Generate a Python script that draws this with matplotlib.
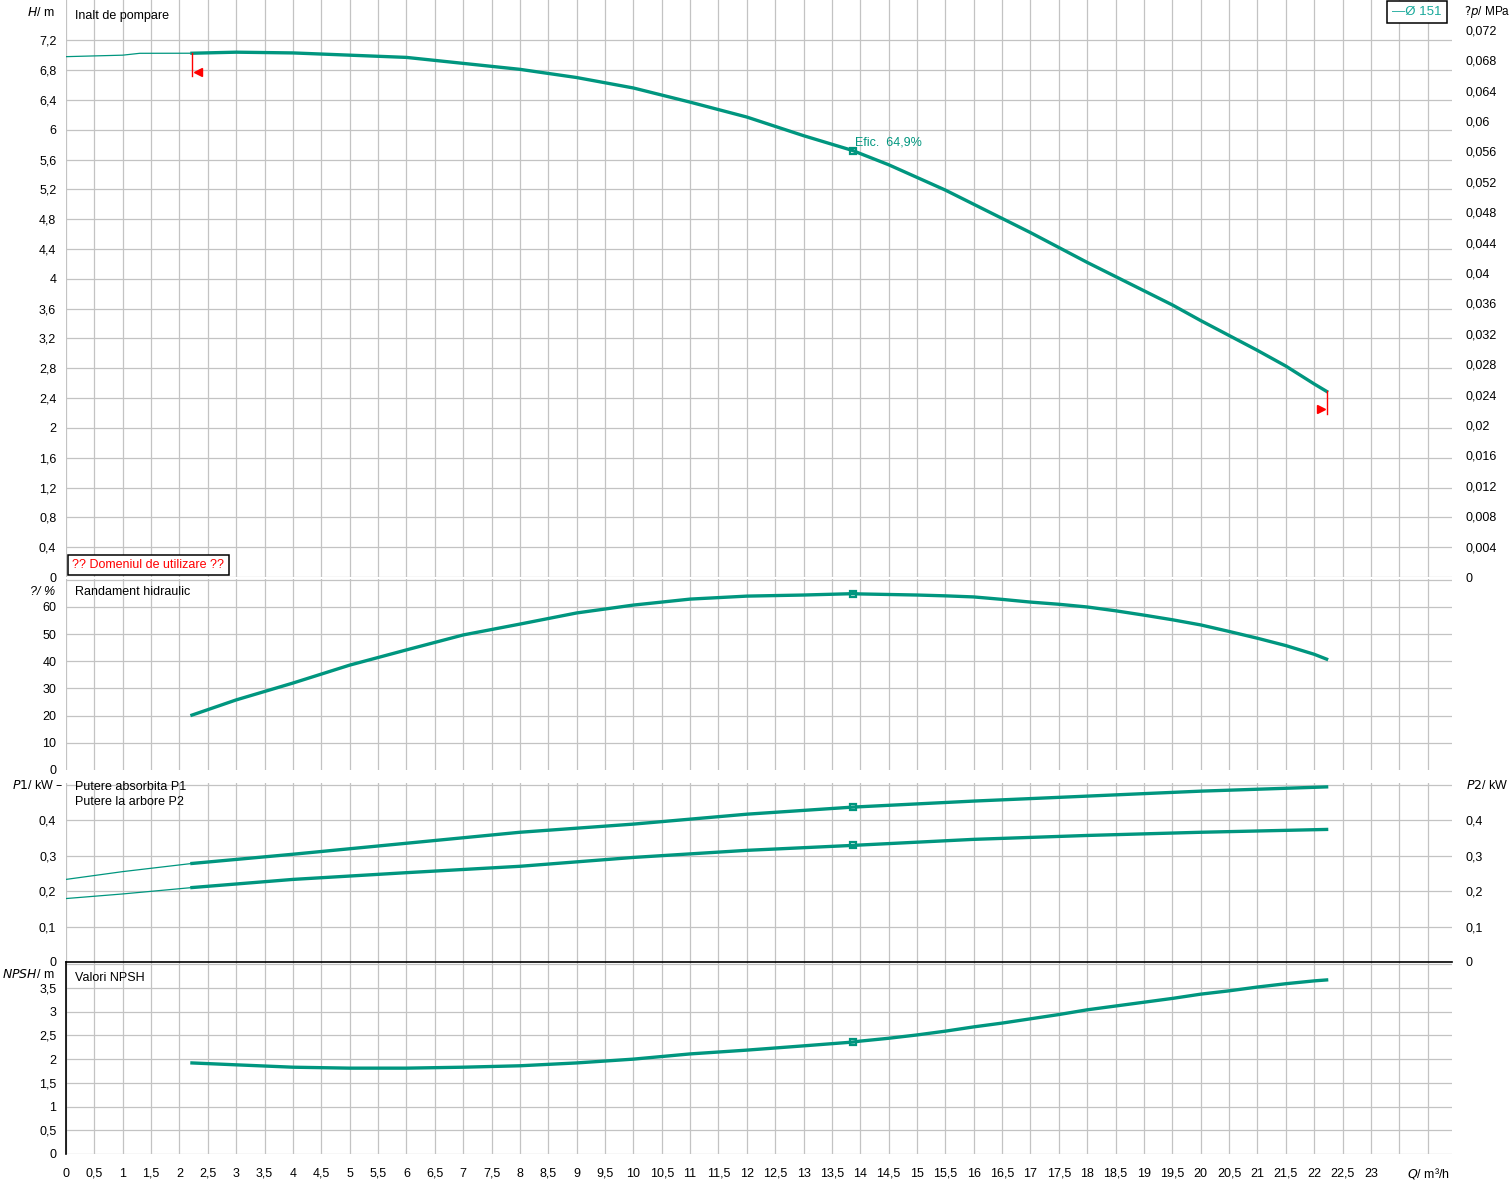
import numpy as np
import matplotlib
matplotlib.use("Agg")
import matplotlib.pyplot as plt

plt.rcParams['font.family'] = ['Liberation Sans', 'DejaVu Sans']
plt.rcParams['font.size'] = 9

TEAL = '#00967f'
GRID = '#c3c3c3'
RHO_G = 0.00981  # MPa per m water column

# flow in m3/h, duty range of the pump curve
q_ext = [0.0, 0.5, 1.0, 1.3, 2.22]
h_ext = [6.98, 6.99, 7.0, 7.025, 7.026]

q = [2.22, 3, 4, 5, 6, 7, 8, 9, 10, 11, 12, 13, 13.87, 14, 14.5, 15, 15.5, 16, 16.5, 17, 17.5,
     18, 18.5, 19, 19.5, 20, 20.5, 21, 21.5, 22, 22.22]
head = [7.026, 7.04, 7.03, 7.0, 6.97, 6.89, 6.81, 6.70, 6.56, 6.37, 6.17, 5.92, 5.72, 5.68,
        5.53, 5.36, 5.19, 5.0, 4.81, 4.62, 4.42, 4.22, 4.03, 3.84, 3.65, 3.44, 3.24, 3.04,
        2.83, 2.59, 2.49]
eff = [20.2, 25.8, 32.0, 38.6, 44.2, 49.7, 53.7, 57.8, 60.7, 62.9, 64.0, 64.4, 64.9, 64.8,
       64.6, 64.4, 64.1, 63.7, 62.8, 61.8, 61.0, 60.0, 58.6, 57.0, 55.3, 53.4, 51.0, 48.5,
       45.8, 42.6, 40.8]
npsh = [1.92, 1.88, 1.83, 1.81, 1.81, 1.83, 1.86, 1.92, 2.0, 2.11, 2.19, 2.28, 2.36, 2.38,
        2.44, 2.51, 2.59, 2.68, 2.76, 2.85, 2.94, 3.04, 3.12, 3.2, 3.28, 3.37, 3.44, 3.52,
        3.59, 3.65, 3.67]

q_pw = [2.22, 4, 6, 8, 10, 12, 13.87, 16, 18, 20, 22.22]
p1 = [0.278, 0.304, 0.335, 0.366, 0.389, 0.417, 0.437, 0.454, 0.468, 0.482, 0.494]
p2 = [0.21, 0.233, 0.252, 0.27, 0.295, 0.315, 0.329, 0.346, 0.357, 0.366, 0.374]
q_pw_ext = [0.0, 1.0, 2.22]
p1_ext = [0.233, 0.255, 0.278]
p2_ext = [0.179, 0.192, 0.21]

duty_q = 13.87
duty_eff = 64.9

h_ticks = np.arange(0, 7.21, 0.4)
dp_ticks = np.arange(0, 0.0721, 0.004)
eff_ticks = np.arange(0, 71, 10)
p_ticks = np.arange(0, 0.51, 0.1)
npsh_ticks = np.arange(0, 4.01, 0.5)
q_ticks = np.arange(0, 24.01, 0.5)

XMAX = 24.43


def fmt(v):
    s = f"{round(v, 4):g}"
    return s.replace('.', ',')


def style(ax, yticks, ylabels, ylim):
    ax.set_xlim(0, XMAX)
    ax.set_ylim(*ylim)
    ax.set_xticks(q_ticks)
    ax.set_yticks(yticks)
    ax.set_yticklabels(ylabels)
    ax.grid(True, color=GRID, linewidth=0.9)
    ax.set_axisbelow(True)
    ax.tick_params(length=0, pad=7, labelsize=9)
    for s in ax.spines.values():
        s.set_visible(False)


def main():
    fig = plt.figure(figsize=(15.12, 11.84), dpi=100)
    L, W = 66 / 1512, (1452 - 66) / 1512

    def frame(top, bot):
        return [L, 1 - bot / 1184, W, (bot - top) / 1184]

    ax1 = fig.add_axes(frame(0, 577))
    ax2 = fig.add_axes(frame(579, 770))
    ax3 = fig.add_axes(frame(783, 962))
    ax4 = fig.add_axes(frame(962, 1154))

    # head
    style(ax1, h_ticks, [fmt(v) for v in h_ticks], (0, 7.74))
    ax1.tick_params(labelbottom=False)
    ax1.plot(q_ext, h_ext, color=TEAL, lw=0.9)
    ax1.plot(q, head, color=TEAL, lw=2.4)
    h_duty = np.interp(duty_q, q, head)
    ax1.plot([duty_q], [h_duty], 's', color=TEAL, ms=5, mfc='none', mew=1.6)
    ax1.text(duty_q + 0.03, h_duty + 0.03, "Efic.  " + fmt(duty_eff) + "%",
             color=TEAL, fontsize=9, ha='left', va='bottom')
    # range limits
    ax1.plot([q[0], q[0]], [head[0], head[0] - 0.3], color='red', lw=1)
    ax1.plot([q[0] + 0.1], [head[0] - 0.25], marker='<', color='red', ms=6)
    ax1.plot([q[-1], q[-1]], [head[-1], head[-1] - 0.3], color='red', lw=1)
    ax1.plot([q[-1] - 0.1], [head[-1] - 0.23], marker='>', color='red', ms=6)
    ax1r = ax1.twinx()
    ax1r.set_ylim(0, 7.74 * RHO_G)
    ax1r.set_yticks(dp_ticks)
    ax1r.set_yticklabels([fmt(v) for v in dp_ticks])
    ax1r.tick_params(length=0, pad=10, labelsize=9)
    for s in ax1r.spines.values():
        s.set_visible(False)
    ax1.text(-0.2, 7.575, "$\\it{H}$/ m", ha='right', va='center')
    ax1.text(0.15, 7.52, "Inalt de pompare", ha='left', va='center')
    ax1.text(1.009, 0.979, "$\\it{?p}$/ MPa", transform=ax1.transAxes, ha='left', va='center',
             fontsize=8.5)
    ax1.text(0.0045, 0.021, "?? Domeniul de utilizare ??", transform=ax1.transAxes, color='red',
             ha='left', va='center',
             bbox=dict(boxstyle='square,pad=0.35', fc='white', ec='black', lw=1.1))
    ax1.text(0.9925, 0.979, "\u2014\u00d8 151", transform=ax1.transAxes, color='#16a89a',
             ha='right', va='center', fontsize=9.5,
             bbox=dict(boxstyle='square,pad=0.4', fc='white', ec='black', lw=1.1))

    # efficiency
    style(ax2, eff_ticks, [fmt(v) for v in eff_ticks[:-1]] + [''], (0, 70.3))
    ax2.get_ygridlines()[0].set_visible(False)
    ax2.tick_params(labelbottom=False)
    ax2.plot(q, eff, color=TEAL, lw=2.4)
    ax2.plot([duty_q], [duty_eff], 's', color=TEAL, ms=5, mfc='none', mew=1.6)
    ax2.text(-0.2, 65.5, "?/ %", ha='right', va='center', style='italic')
    ax2.text(0.15, 65.5, "Randament hidraulic", ha='left', va='center')

    # power
    style(ax3, p_ticks, [fmt(v) for v in p_ticks[:-1]] + [''], (0, 0.505))
    ax3.tick_params(labelbottom=False)
    ax3.plot(q_pw_ext, p1_ext, color=TEAL, lw=0.9)
    ax3.plot(q_pw_ext, p2_ext, color=TEAL, lw=0.9)
    ax3.plot(q_pw, p1, color=TEAL, lw=2.4)
    ax3.plot(q_pw, p2, color=TEAL, lw=2.4)
    ax3.plot([duty_q], [np.interp(duty_q, q_pw, p1)], 's', color=TEAL, ms=5, mfc='none', mew=1.6)
    ax3.plot([duty_q], [np.interp(duty_q, q_pw, p2)], 's', color=TEAL, ms=5, mfc='none', mew=1.6)
    ax3r = ax3.twinx()
    ax3r.set_ylim(0, 0.505)
    ax3r.set_yticks(p_ticks[:-1])
    ax3r.set_yticklabels([fmt(v) for v in p_ticks[:-1]])
    ax3r.tick_params(length=0, pad=10, labelsize=9)
    for s in ax3r.spines.values():
        s.set_visible(False)
    ax3.text(-0.05, 0.497, "$\\it{P1}$/ kW \u2013", ha='right', va='center')
    ax3.text(0.15, 0.494, "Putere absorbita P1", ha='left', va='center')
    ax3.text(0.15, 0.452, "Putere la arbore P2", ha='left', va='center')
    ax3.text(1.01, 0.497, "$\\it{P2}$/ kW", transform=ax3.get_yaxis_transform(), ha='left', va='center')

    # npsh
    style(ax4, npsh_ticks, [fmt(v) for v in npsh_ticks[:-1]] + [''], (0, 4.048))
    ax4.set_xticklabels([fmt(v) if v <= 23 else '' for v in q_ticks])
    ax4.tick_params(axis='x', pad=10)
    ax4.spines['top'].set_visible(True)
    ax4.spines['left'].set_visible(True)
    ax4.spines['top'].set_linewidth(1.2)
    ax4.spines['left'].set_linewidth(1.2)
    ax4.plot(q, npsh, color=TEAL, lw=2.4)
    ax4.plot([duty_q], [np.interp(duty_q, q, npsh)], 's', color=TEAL, ms=5, mfc='none', mew=1.6)
    ax4.text(-0.2, 3.78, "$\\it{NPSH}$/ m", ha='right', va='center')
    ax4.text(0.15, 3.72, "Valori NPSH", ha='left', va='center')
    ax4.text(24.4, -0.42, "$\\it{Q}$/ m\u00b3/h", ha='right', va='center')

    fig.savefig("out.png", dpi=100)


if __name__ == "__main__":
    main()
